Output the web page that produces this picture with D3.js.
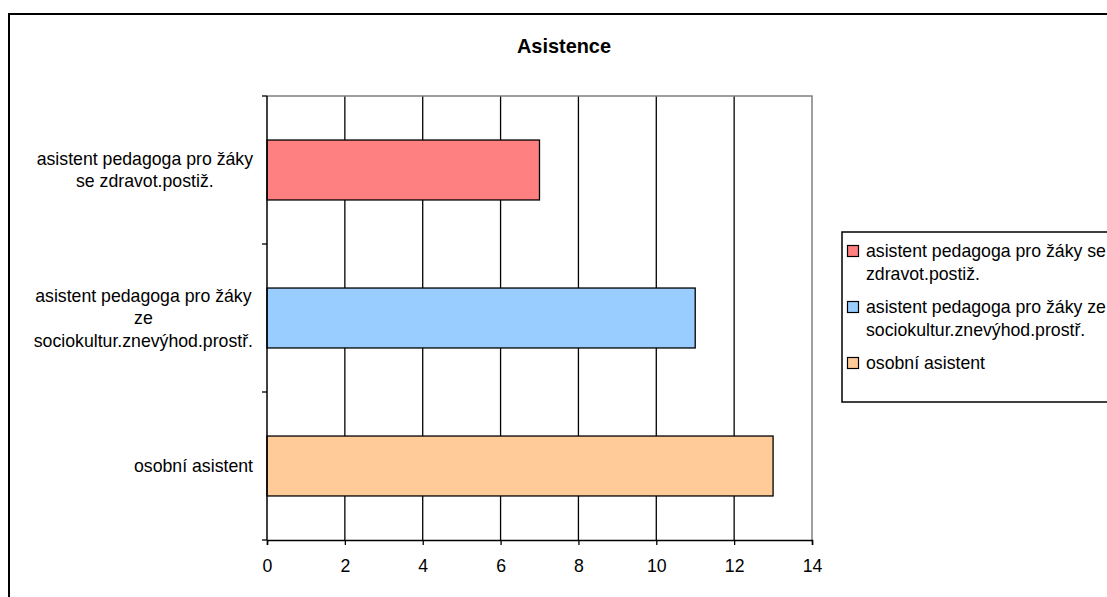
<!DOCTYPE html>
<html>
<head>
<meta charset="utf-8">
<script src="https://cdn.jsdelivr.net/npm/d3@7"></script>
<style>
  html, body { margin: 0; padding: 0; background: #fff; overflow: hidden; }
  svg { display: block; font-family: Arial, "Liberation Sans", sans-serif; }
</style>
</head>
<body>
<svg id="chart" width="1107" height="597"></svg>
<script>
// Chart data
const title = "Asistence";
const categories = [
  "asistent pedagoga pro žáky se zdravot.postiž.",
  "asistent pedagoga pro žáky ze sociokultur.znevýhod.prostř.",
  "osobní asistent"
];
const values = [7, 11, 13];
const colors = ["#FF8080", "#99CCFF", "#FFCC99"];
const xTicks = [0, 2, 4, 6, 8, 10, 12, 14];

const svg = d3.select("#chart");
const fontSize = 17.7;

// Outer chart frame (continues past the window edges)
svg.append("rect")
  .attr("x", 9).attr("y", 14)
  .attr("width", 1300).attr("height", 800)
  .attr("fill", "#fff").attr("stroke", "#000").attr("stroke-width", 2);

// Plot area
const plot = { left: 267, top: 96, right: 812, bottom: 540 };

const x = d3.scaleLinear().domain([0, 14]).range([plot.left, plot.right]);
const y = d3.scaleBand().domain(categories).range([plot.top, plot.bottom]).padding(0);
const barFrac = 0.405;

// Title
svg.append("text")
  .attr("x", 564).attr("y", 53)
  .attr("text-anchor", "middle")
  .attr("font-weight", "bold")
  .attr("font-size", 19.9)
  .text(title);

// Vertical gridlines
svg.append("g")
  .selectAll("line")
  .data(xTicks.slice(1, -1))
  .join("line")
  .attr("x1", d => x(d)).attr("x2", d => x(d))
  .attr("y1", plot.top).attr("y2", plot.bottom)
  .attr("stroke", "#000").attr("stroke-width", 1.3);

// Plot border: top and right in grey
svg.append("path")
  .attr("d", `M${plot.left},${plot.top}H${plot.right}V${plot.bottom}`)
  .attr("fill", "none").attr("stroke", "#808080").attr("stroke-width", 1.5);

// Bars
svg.append("g")
  .selectAll("rect")
  .data(categories.map((c, i) => ({ c, v: values[i], color: colors[i] })))
  .join("rect")
  .attr("x", x(0))
  .attr("y", d => y(d.c) + y.bandwidth() * (1 - barFrac) / 2)
  .attr("width", d => x(d.v) - x(0))
  .attr("height", y.bandwidth() * barFrac)
  .attr("fill", d => d.color)
  .attr("stroke", "#000").attr("stroke-width", 1.3);

// X axis
const xAxis = d3.axisBottom(x).tickValues(xTicks).tickSize(5).tickPadding(14);
const gx = svg.append("g").attr("transform", `translate(0,${plot.bottom})`).call(xAxis);
gx.select(".domain").attr("stroke", "#000").attr("stroke-width", 1.5);
gx.selectAll(".tick line").attr("stroke", "#000").attr("stroke-width", 1.3);
gx.selectAll(".tick text")
  .attr("font-size", fontSize)
  .attr("font-family", "Arial, 'Liberation Sans', sans-serif")
  .attr("fill", "#000");

// Y axis line and ticks at category boundaries
svg.append("line")
  .attr("x1", plot.left).attr("x2", plot.left)
  .attr("y1", plot.top).attr("y2", plot.bottom)
  .attr("stroke", "#000").attr("stroke-width", 1.5);
const boundaries = categories.map(c => y(c)).concat([plot.bottom]);
svg.append("g")
  .selectAll("line")
  .data(boundaries)
  .join("line")
  .attr("x1", plot.left - 5).attr("x2", plot.left)
  .attr("y1", d => d).attr("y2", d => d)
  .attr("stroke", "#000").attr("stroke-width", 1.3);

// Greedy word wrap using measured text width
const measurer = svg.append("text").attr("font-size", fontSize).attr("visibility", "hidden");
function textWidth(s) { measurer.text(s); return measurer.node().getComputedTextLength(); }
function wrap(s, maxW) {
  const words = s.split(" ");
  const lines = [];
  let cur = "";
  words.forEach(w => {
    const t = cur ? cur + " " + w : w;
    if (cur && textWidth(t) > maxW) { lines.push(cur); cur = w; }
    else cur = t;
  });
  if (cur) lines.push(cur);
  return lines;
}

// Category labels: block right-aligned next to axis, lines centred within block
const labelRight = 253;
const labelLineH = 22.5;
categories.forEach(c => {
  const lines = wrap(c, 232);
  const blockW = d3.max(lines, l => textWidth(l));
  const cx = labelRight - blockW / 2;
  const cy = y(c) + y.bandwidth() / 2;
  const t = svg.append("text")
    .attr("font-size", fontSize)
    .attr("text-anchor", "middle");
  lines.forEach((l, i) => {
    t.append("tspan")
      .attr("x", cx)
      .attr("y", cy - (lines.length - 1) * labelLineH / 2 + i * labelLineH + 6)
      .text(l);
  });
});

// Legend
const legend = { x: 842, y: 232, h: 170 };
svg.append("rect")
  .attr("x", legend.x).attr("y", legend.y)
  .attr("width", 400).attr("height", legend.h)
  .attr("fill", "#fff").attr("stroke", "#000").attr("stroke-width", 1.5);

const legLineH = 23;
let baseY = 257;
categories.forEach((c, i) => {
  const lines = wrap(c, 250);
  svg.append("rect")
    .attr("x", 847.5).attr("y", baseY - 11.5)
    .attr("width", 11).attr("height", 11)
    .attr("fill", colors[i]).attr("stroke", "#000").attr("stroke-width", 1.2);
  const t = svg.append("text").attr("font-size", fontSize);
  lines.forEach((l, j) => {
    t.append("tspan").attr("x", 866).attr("y", baseY + j * legLineH).text(l);
  });
  baseY += lines.length * legLineH + 10;
});

measurer.remove();
</script>
</body>
</html>
